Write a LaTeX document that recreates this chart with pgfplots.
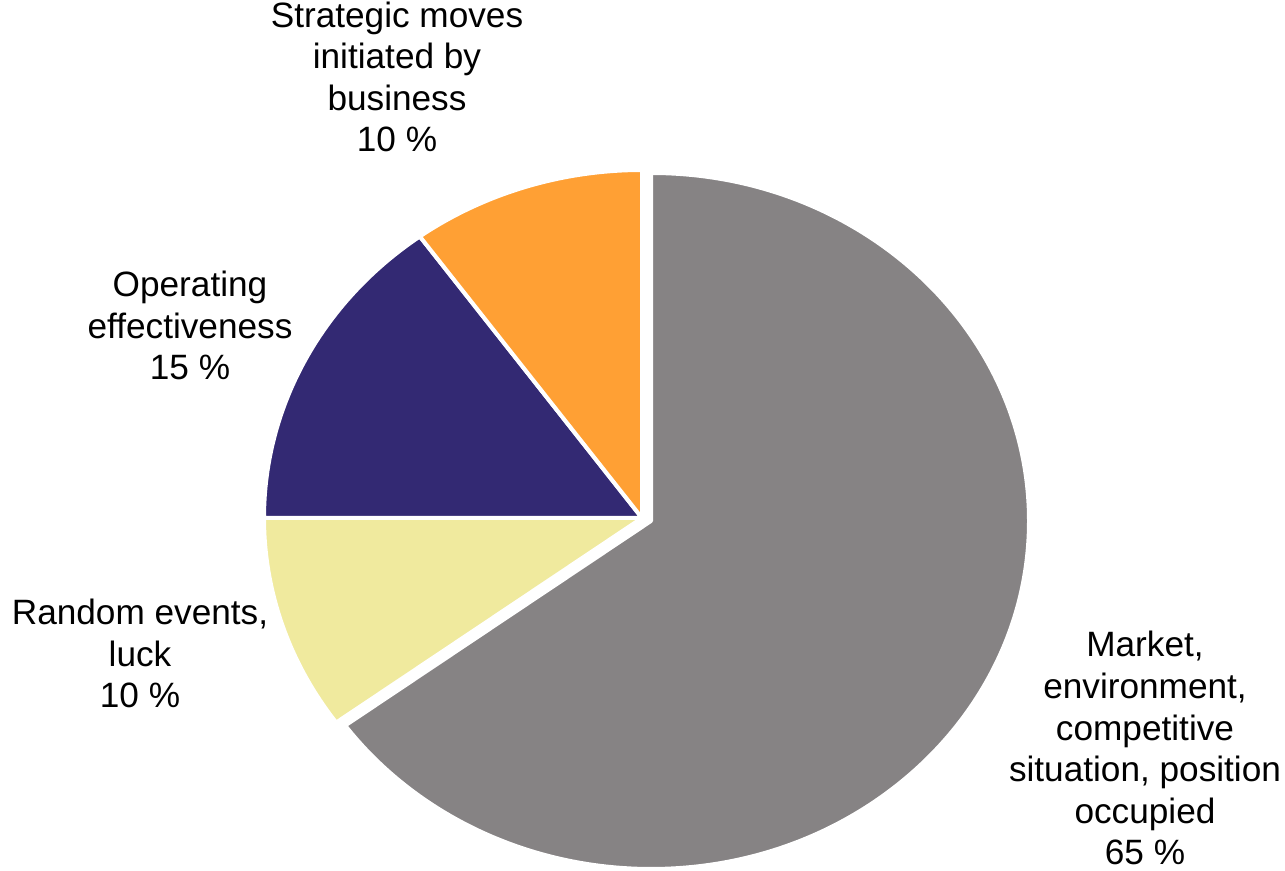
\documentclass[border=0pt]{standalone}
\usepackage{pgfplots}
\pgfplotsset{compat=1.18}
\usepackage{fontspec}
\setmainfont{Liberation Sans}
\definecolor{cgray}{RGB}{134,131,132}
\definecolor{corange}{RGB}{255,160,52}
\definecolor{cpurple}{RGB}{51,41,115}
\definecolor{cyellow}{RGB}{240,234,158}
\begin{document}
\begin{tikzpicture}
\begin{axis}[
  scale only axis, width=642.5pt, height=435pt,
  xmin=0, xmax=1285, ymin=0, ymax=870,
  hide axis, clip=false,
]
\path (axis cs:0,0) rectangle (axis cs:1285,870);
% values: Market 65, Random 10, Operating 15, Strategic 10 (clockwise from 12 o'clock)
\filldraw[fill=cgray, draw=white, line width=2pt, line join=round]
  (axis cs:651,349) -- ++(90:378 and 348)
  arc[start angle=90, end angle={90-3.6*65}, x radius=378, y radius=348] -- cycle;
\filldraw[fill=cyellow, draw=white, line width=2pt, line join=round]
  (axis cs:642,352) -- ++({90-3.6*65}:378 and 348)
  arc[start angle={90-3.6*65}, end angle={90-3.6*75}, x radius=378, y radius=348] -- cycle;
\filldraw[fill=cpurple, draw=white, line width=2pt, line join=round]
  (axis cs:642,352) -- ++({90-3.6*75}:378 and 348)
  arc[start angle={90-3.6*75}, end angle={90-3.6*90}, x radius=378, y radius=348] -- cycle;
\filldraw[fill=corange, draw=white, line width=2pt, line join=round]
  (axis cs:642,352) -- ++({90-3.6*90}:378 and 348)
  arc[start angle={90-3.6*90}, end angle={90-3.6*100}, x radius=378, y radius=348] -- cycle;
\tikzset{lbl/.style={anchor=base, align=center, inner sep=0pt, font=\fontsize{17.6}{20.8}\selectfont}}
\node[lbl] at (axis cs:397,718) {Strategic moves\\initiated by\\business\\10 \%};
\node[lbl] at (axis cs:190,490) {Operating\\effectiveness\\15 \%};
\node[lbl] at (axis cs:140,162) {Random events,\\luck\\10 \%};
\node[lbl] at (axis cs:1145,5) {Market,\\environment,\\competitive\\situation, position\\occupied\\65 \%};
\end{axis}
\end{tikzpicture}
\end{document}
